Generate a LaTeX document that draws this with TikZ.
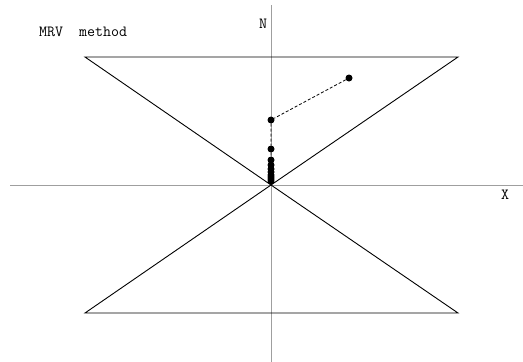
\documentclass[tikz,border=0pt]{standalone}
\usetikzlibrary{positioning}

\tikzset{
  axis/.style={draw=gray!75, line width=0.8pt},
  cone/.style={draw=black, line width=0.9pt},
  iter/.style={circle, fill=black, inner sep=0pt, minimum size=7pt},
  trail/.style={dash pattern=on 3pt off 2pt, line width=0.8pt},
  lbl/.style={font=\fontsize{15.5}{17}\ttfamily, inner sep=0pt}
}

\begin{document}
\begin{tikzpicture}[x=1pt, y=-1pt]
  \useasboundingbox (0,0) rectangle (523,362);
  % axes
  \coordinate (O) at (271,185);
  \coordinate (xl) at (10,185);
  \coordinate (xr) at (523,185);
  \coordinate (nt) at (271,5);
  \coordinate (nb) at (271,362);
  \draw[axis] (xl) -- (xr) (nt) -- (nb);
  % the two triangles
  \draw[cone] (O) -- (85,57) -- (458,57) -- cycle;
  \draw[cone] (O) -- (85,313) -- (458,313) -- cycle;
  % labels
  \node[lbl, anchor=west] (title) at (39,32) {MRV\ \ method};
  \node[lbl] (N) at (263,24) {N};
  \node[lbl] (X) at (505,195) {X};
  % iterates
  \node[iter] (p0) at (349,78) {};
  \node[iter] (p1) at (271,120) {};
  \node[iter] (p2) at (271,149) {};
  \node[iter] (p3) at (271,160) {};
  \foreach \y [count=\i from 4] in {165,169,172,175,177,179,181}
    \node[iter] (p\i) at (271,\y) {};
  \draw[trail] (p0) -- (p1) -- (p2) -- (p3);
\end{tikzpicture}
\end{document}
